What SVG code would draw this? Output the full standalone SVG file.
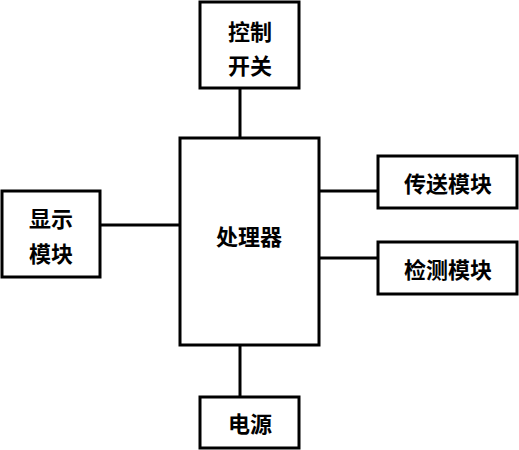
<svg xmlns="http://www.w3.org/2000/svg" width="519" height="450" viewBox="0 0 519 450">
<style>
.box{fill:#fff;stroke:#000;stroke-width:3}
.ln{stroke:#000;stroke-width:3;fill:none}
text{font-family:"Noto Sans CJK SC","Noto Sans",sans-serif;font-size:22px;font-weight:700;text-anchor:middle;dominant-baseline:central;fill:#000}
</style>
<rect width="519" height="450" fill="#fff"/>
<g id="connectors">
<line class="ln" x1="240" y1="88" x2="240" y2="138"/>
<line class="ln" x1="100" y1="225" x2="180" y2="225"/>
<line class="ln" x1="319" y1="191" x2="378" y2="191"/>
<line class="ln" x1="319" y1="258" x2="378" y2="258"/>
<line class="ln" x1="240" y1="345" x2="240" y2="397"/>
</g>
<g id="processor"><rect class="box" x="180" y="138" width="139" height="207"/><text x="249" y="235">处理器</text></g>
<g id="control"><rect class="box" x="200" y="2" width="99" height="86"/><text x="250" y="30">控制</text><text x="250" y="64">开关</text></g>
<g id="display"><rect class="box" x="2" y="191" width="98" height="86"/><text x="51" y="217">显示</text><text x="51" y="252">模块</text></g>
<g id="transfer"><rect class="box" x="378" y="156" width="139" height="52"/><text x="448" y="182">传送模块</text></g>
<g id="detect"><rect class="box" x="378" y="242" width="139" height="52"/><text x="448" y="268">检测模块</text></g>
<g id="power"><rect class="box" x="200" y="397" width="99" height="51"/><text x="250" y="422">电源</text></g>
</svg>
